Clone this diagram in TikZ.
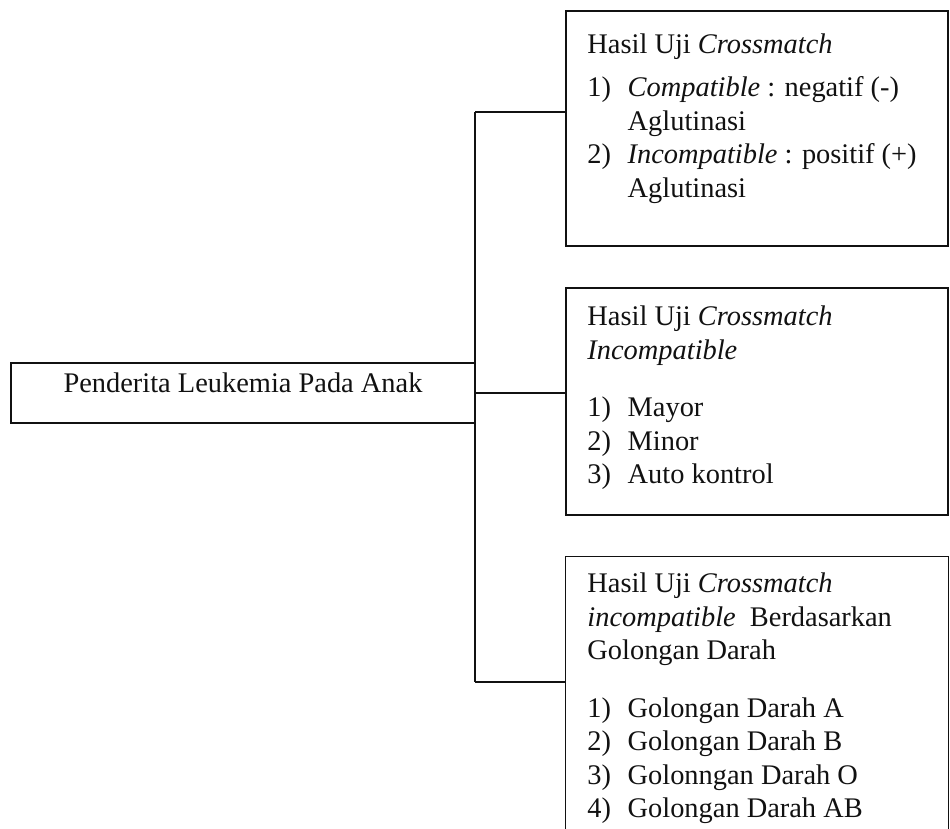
\documentclass[tikz,border=0pt]{standalone}
\usepackage{fontspec}
\setmainfont{Liberation Serif}
\usepackage{tikz}
\usetikzlibrary{positioning,fit,calc}
\definecolor{ink}{HTML}{111111}
\tikzset{
  framebox/.style={draw=ink,line width=0.6pt,inner sep=0pt},
  openbox/.style={inner sep=0pt},
  titletext/.style={inner sep=0pt,text=ink,
                    font=\fontsize{12}{14.15}\selectfont},
  bodytext/.style={anchor=base west,inner sep=0pt,text=ink,
                   font=\fontsize{12}{14.15}\selectfont},
  link/.style={draw=ink,line width=0.6pt}
}

\begin{document}
\begin{tikzpicture}[x=0.4225pt,y=-0.4225pt]
  \useasboundingbox (0,0) rectangle (950,829);
  % boxes
  \node[framebox,titletext,fit={(11,363) (475,423)}] (pasien)
    {Penderita Leukemia Pada Anak};
  \node[framebox,fit={(566,11) (948,246)}] (crossbox) {};
  \node[framebox,fit={(566,288) (948,515)}] (incbox) {};
  \node[openbox,fit={(566,557) (948,829)}] (golbox) {};
  \draw[link] (golbox.south west) -- (golbox.north west)
    -- (golbox.north east) -- (golbox.south east);
  % connectors
  \coordinate (topjoin) at (475,112);
  \coordinate (botjoin) at (475,682);
  \draw[link] (topjoin) -- (botjoin);
  \draw[link] (topjoin) -- (topjoin -| crossbox.west);
  \draw[link] (pasien.east) -- (pasien.east -| incbox.west);
  \draw[link] (botjoin) -- (botjoin -| golbox.west);
  % box texts
  \node[bodytext] (crosstxt) at (587,54)
    {\begin{tabular}[t]{@{}p{17pt}@{}l@{}}
      \multicolumn{2}{@{}l@{}}{Hasil Uji \textit{Crossmatch}}\\[4pt]
      1) & \textit{Compatible} : negatif (-)\\
         & Aglutinasi\\
      2) & \textit{Incompatible} : positif (+)\\
         & Aglutinasi
     \end{tabular}};
  \node[bodytext] (inctxt) at (587,326)
    {\begin{tabular}[t]{@{}p{17pt}@{}l@{}}
      \multicolumn{2}{@{}l@{}}{Hasil Uji \textit{Crossmatch}}\\
      \multicolumn{2}{@{}l@{}}{\textit{Incompatible}}\\[10pt]
      1) & Mayor\\
      2) & Minor\\
      3) & Auto kontrol
     \end{tabular}};
  \node[bodytext] (goltxt) at (587,593)
    {\begin{tabular}[t]{@{}p{17pt}@{}l@{}}
      \multicolumn{2}{@{}l@{}}{Hasil Uji \textit{Crossmatch}}\\
      \multicolumn{2}{@{}l@{}}{\textit{incompatible}\ \ Berdasarkan}\\
      \multicolumn{2}{@{}l@{}}{Golongan Darah}\\[10pt]
      1) & Golongan Darah A\\
      2) & Golongan Darah B\\
      3) & Golonngan Darah O\\
      4) & Golongan Darah AB
     \end{tabular}};
\end{tikzpicture}
\end{document}
